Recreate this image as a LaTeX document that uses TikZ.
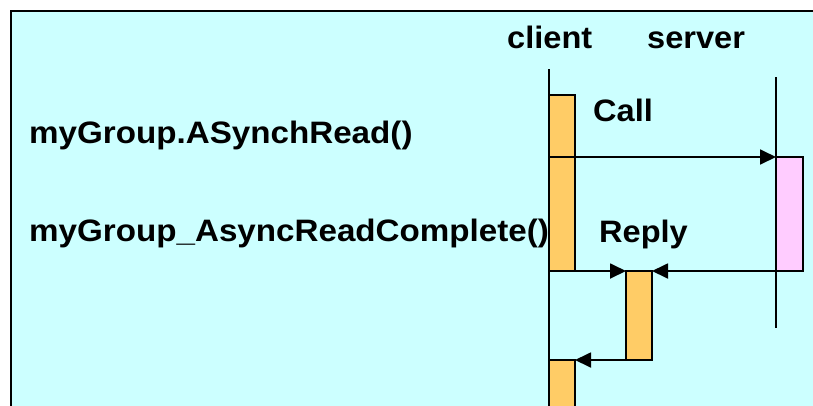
\documentclass[tikz,border=0pt]{standalone}
\usepackage{fontspec}
\setmainfont{Liberation Sans}[FakeStretch=1.05]
\newfontfamily\widefont{Liberation Sans}[FakeStretch=1.07]
\usetikzlibrary{arrows.meta}
\definecolor{bgc}{HTML}{CCFFFF}
\definecolor{actc}{HTML}{FFCC66}
\definecolor{srvc}{HTML}{FFCCFF}
\tikzset{
  lbl/.style={inner sep=0pt, anchor=base west, font=\fontsize{31}{36}\selectfont\bfseries},
  wlbl/.style={inner sep=0pt, anchor=base west, font=\widefont\fontsize{31}{36}\selectfont\bfseries},
  act/.style={draw, line width=1.8pt, fill=actc, minimum width=26pt, inner sep=0pt, outer sep=0pt, anchor=north west},
  srv/.style={draw, line width=1.8pt, fill=srvc, minimum width=27pt, inner sep=0pt, outer sep=0pt, anchor=north west},
  life/.style={line width=1.8pt},
  msg/.style={line width=1.8pt, -{Triangle[length=16pt,width=15pt]}}
}
\begin{document}
\begin{tikzpicture}[x=1pt,y=-1pt]
\useasboundingbox (0,0) rectangle (813,405);
\clip (0,0) rectangle (813,405);
\fill[white] (0,0) rectangle (813,405);
\fill[bgc] (11,11) rectangle (840,440);
\draw[line width=2.5pt] (840,11) -- (11,11) -- (11,440);
% lifelines
\coordinate (cl0) at (549,69);
\coordinate (cl1) at (549,420);
\coordinate (sl0) at (776,77);
\coordinate (sl1) at (776,328);
\draw[life] (cl0) -- (cl1);
\draw[life] (sl0) -- (sl1);
% labels
\node[lbl] (client) at (507,48) {client};
\node[lbl] (server) at (647,48) {server};
\node[wlbl] (read) at (29,143) {myGroup.ASynchRead()};
\node[wlbl] (complete) at (29,241) {myGroup\_AsyncReadComplete()};
\node[lbl] (call) at (593,121) {Call};
\node[lbl] (reply) at (599,242) {Reply};
% activation boxes
\node[act, minimum height=62pt] (c1) at (549,95) {};
\node[act, minimum height=114pt] (c2) at (549,157) {};
\node[srv, minimum height=114pt] (s1) at (776,157) {};
\node[act, minimum height=89pt] (cb) at (626,271) {};
\node[act, minimum height=70pt] (c3) at (549,360) {};
% messages
\draw[msg] (c2.north east) -- (s1.north west);
\draw[msg] (s1.south east) -- (cb.north east);
\draw[msg] (c2.south west) -- (cb.north west);
\draw[msg] (cb.south west) -- (c3.north east);
\end{tikzpicture}
\end{document}
